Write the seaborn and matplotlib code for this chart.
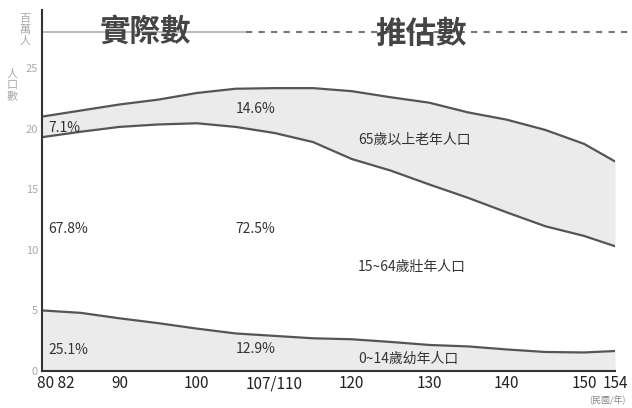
import numpy as np
import pandas as pd
import matplotlib
matplotlib.use("Agg")
import matplotlib.pyplot as plt
import seaborn as sns

# 民國年 and population (million)
years = [80, 85, 90, 95, 100, 105, 110, 115, 120, 125, 130, 135, 140, 145, 150, 154]
total_pop = [21.0, 21.5, 22.0, 22.4, 22.95, 23.3, 23.35, 23.35, 23.1, 22.6, 22.15, 21.35, 20.75, 19.9, 18.75, 17.3]
young_plus_working = [19.3, 19.75, 20.15, 20.35, 20.45, 20.15, 19.65, 18.9, 17.5, 16.55, 15.4, 14.3, 13.1, 11.95, 11.15, 10.3]
young_pop = [5.0, 4.8, 4.35, 3.95, 3.5, 3.1, 2.9, 2.7, 2.62, 2.4, 2.15, 2.03, 1.78, 1.57, 1.53, 1.65]

share_years = [80.8, 107.6]
share_old = ["7.1%", "14.6%"]
share_working = ["67.8%", "72.5%"]
share_young = ["25.1%", "12.9%"]

group_labels = ["65歲以上老年人口", "15~64歲壯年人口", "0~14歲幼年人口"]
xtick_pos = [81.8, 90, 100, 110, 120, 130, 140, 150, 154]
xtick_labels = ["80 82", "90", "100", "107/110", "120", "130", "140", "150", "154"]
ytick_pos = [0, 5, 10, 15, 20, 25]

sns.set_style("white")
plt.rcParams["font.family"] = ["Noto Sans CJK TC", "DejaVu Sans"]

df = pd.DataFrame({"year": years, "total": total_pop, "mid": young_plus_working, "young": young_pop})
long_df = df.melt(id_vars="year", var_name="series", value_name="pop")

fig = plt.figure(figsize=(6.32, 4.08), dpi=100)
ax = fig.add_axes([42 / 632, 37 / 408, 573 / 632, 361 / 408])

line_col = "#555555"
fill_col = "#ebebeb"
ax.fill_between(df["year"], df["mid"], df["total"], color=fill_col, lw=0)
ax.fill_between(df["year"], 0, df["young"], color=fill_col, lw=0)
sns.lineplot(data=long_df, x="year", y="pop", units="series", estimator=None,
             color=line_col, lw=1.6, ax=ax, legend=False)

ax.set_xlim(80, 154)
ax.set_ylim(0, 29.8)
ax.set_xlabel("")
ax.set_ylabel("")

ax.set_xticks(xtick_pos)
ax.set_xticklabels(xtick_labels, fontsize=11, color="#222222")
ax.set_yticks(ytick_pos)
ax.set_yticklabels([str(v) for v in ytick_pos], fontsize=8, color="#aaaaaa")
ax.tick_params(axis="x", direction="in", length=4, color="#888888", pad=3)
ax.tick_params(axis="y", direction="in", length=4, color="#888888", pad=3)
for s in ["top", "right"]:
    ax.spines[s].set_visible(False)
for s in ["left", "bottom"]:
    ax.spines[s].set_color("#333333")
    ax.spines[s].set_linewidth(1.5)

# actual / projected reference line
ax.plot([80, 106.3], [28, 28], color="#bbbbbb", lw=1.5, clip_on=False)
ax.plot([106.3, 156], [28, 28], color="#777777", lw=1.5, ls=(0, (3, 3)), clip_on=False)
ax.text(93.3, 28, "實際數", fontsize=22, fontweight="bold", color="#444444",
        ha="center", va="center")
ax.text(128.9, 27.8, "推估數", fontsize=22, fontweight="bold", color="#444444",
        ha="center", va="center")

txt = dict(fontsize=10, color="#333333", va="center")
ax.text(share_years[0], 20.1, share_old[0], ha="left", **txt)
ax.text(share_years[1], 21.6, share_old[1], ha="center", **txt)
ax.text(share_years[0], 11.75, share_working[0], ha="left", **txt)
ax.text(share_years[1], 11.75, share_working[1], ha="center", **txt)
ax.text(share_years[0], 1.75, share_young[0], ha="left", **txt)
ax.text(share_years[1], 1.8, share_young[1], ha="center", **txt)

ax.text(120.8, 19.1, group_labels[0], ha="left", **txt)
ax.text(120.8, 8.6, group_labels[1], ha="left", **txt)
ax.text(120.8, 1.05, group_labels[2], ha="left", **txt)

fig.text(25 / 632, 1 - 30 / 408, "百\n萬\n人", fontsize=8, color="#aaaaaa",
         ha="center", va="center", linespacing=1.1)
fig.text(12 / 632, 1 - 85 / 408, "人\n口\n數", fontsize=8, color="#aaaaaa",
         ha="center", va="center", linespacing=1.1)
fig.text(607 / 632, 1 - 400 / 408, "(民國/年)", fontsize=6.5, color="#888888",
         ha="center", va="center")

fig.savefig("out.png", dpi=100)
